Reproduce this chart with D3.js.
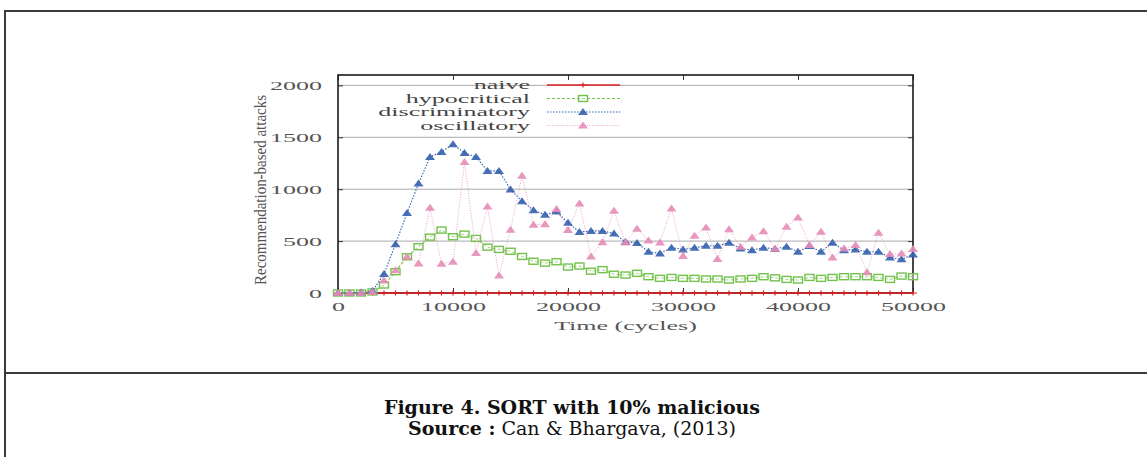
<!DOCTYPE html>
<html>
<head>
<meta charset="utf-8">
<script src="https://cdn.jsdelivr.net/npm/d3@7"></script>
<style>
body { margin: 0; background: #fff; }
svg { display: block; }
.tick text { font-family: "Liberation Serif", "DejaVu Serif", serif; font-size: 13px; fill: #555; }
</style>
</head>
<body>
<div id="chart"></div>
<script>
// values read every 1000 cycles, 0..50000
var cycles = d3.range(0, 50001, 1000);
var naive = cycles.map(function() { return 0; });
var hypocritical = [0, 0, 0, 10, 77, 205, 349, 446, 538, 606, 542, 567, 526, 442, 420, 402, 352, 306, 288, 301,
  250, 260, 210, 225, 181, 173, 190, 157, 141, 150, 141, 141, 135, 135, 125, 135, 141, 157, 146, 131,
  125, 150, 141, 150, 157, 157, 157, 150, 131, 163, 157];
var discriminatory = [0, 0, 5, 20, 183, 470, 770, 1054, 1311, 1359, 1433, 1349, 1311, 1176, 1176, 997, 885, 798, 753, 785,
  676, 588, 598, 598, 574, 492, 482, 397, 381, 436, 420, 436, 455, 455, 484, 429, 413, 436, 425, 446,
  397, 452, 397, 484, 413, 420, 397, 397, 343, 324, 370];
var oscillatory = [0, 0, 0, 10, 120, 220, 350, 285, 822, 282, 301, 1263, 385, 833, 168, 609, 1130, 657, 663, 809,
  606, 862, 352, 489, 792, 486, 618, 505, 487, 814, 356, 551, 631, 327, 615, 446, 535, 596, 426, 638,
  728, 462, 590, 343, 429, 462, 200, 580, 375, 381, 423];
var seriesNames = ["naive", "hypocritical", "discriminatory", "oscillatory"];
var xTicks = [0, 10000, 20000, 30000, 40000, 50000];
var yTicks = [0, 500, 1000, 1500, 2000];

var mrg = { top: 75, right: 234, bottom: 164, left: 338 },
  W = 1147, H = 457,
  plotW = W - mrg.left - mrg.right,
  plotH = H - mrg.top - mrg.bottom;
var stretch = 2.0; // the source picture is widened about 2x

var svg = d3.select("#chart").append("svg")
  .attr("width", W).attr("height", H);

// figure frame
svg.append("path").attr("d", "M5,457 L5,11 L1147,11")
  .attr("fill", "none").attr("stroke", "#3a3a3a").attr("stroke-width", 2);
svg.append("line").attr("x1", 5).attr("x2", 1147).attr("y1", 373).attr("y2", 373)
  .attr("stroke", "#3a3a3a").attr("stroke-width", 2);

var chart = svg.append("g").attr("transform", `translate(${mrg.left}, ${mrg.top})`);

var xScale = d3.scaleLinear().domain([0, 50000]).range([0, plotW]);
var yScale = d3.scaleLinear().domain([0, 2100]).range([plotH, 0]);

// horizontal grid
chart.append("g").selectAll("line").data(yTicks.slice(1)).enter().append("line")
  .attr("x1", 0).attr("x2", plotW)
  .attr("y1", function(d) { return yScale(d); }).attr("y2", function(d) { return yScale(d); })
  .attr("stroke", "#aaa").attr("stroke-width", 1);

chart.append("g").attr("transform", `translate(0, ${plotH})`)
  .call(d3.axisBottom(xScale).tickValues(xTicks).tickSize(-5).tickPadding(9).tickFormat(d3.format("d")));
chart.append("g")
  .call(d3.axisLeft(yScale).tickValues(yTicks).tickSize(-5).tickPadding(16).tickFormat(d3.format("d")));
chart.append("g").call(d3.axisTop(xScale).tickValues(xTicks).tickSize(-5).tickFormat(""));
chart.append("g").attr("transform", `translate(${plotW}, 0)`)
  .call(d3.axisRight(yScale).tickValues(yTicks).tickSize(-5).tickFormat(""));
chart.selectAll(".domain").attr("stroke", "none");
chart.selectAll(".tick line").attr("stroke", "#333");
chart.append("rect").attr("width", plotW).attr("height", plotH)
  .attr("fill", "none").attr("stroke", "#1a1a1a").attr("stroke-width", 1.6);

var styles = {
  naive: { data: naive, color: "#d82222", dash: null, width: 1.6, marker: "plus" },
  hypocritical: { data: hypocritical, color: "#72c24c", dash: "3,2", width: 1.1, marker: "square" },
  discriminatory: { data: discriminatory, color: "#3360ae", dash: "1.5,1.5", width: 1.1, marker: "triangle" },
  oscillatory: { data: oscillatory, color: "#e58cb8", dash: "1,1.5", width: 0.8, marker: "triangle" }
};

var line = d3.line()
  .x(function(d) { return xScale(d[0]); })
  .y(function(d) { return yScale(d[1]); });

function drawMarker(g, type, color, x, y) {
  if (type === "plus") {
    g.append("path").attr("d", `M${x - 4},${y}h8M${x},${y - 2.5}v5`)
      .attr("stroke", color).attr("stroke-width", 1.2);
  } else if (type === "square") {
    g.append("rect").attr("x", x - 4.5).attr("y", y - 3).attr("width", 9).attr("height", 6)
      .attr("fill", "#fff").attr("fill-opacity", 0.4).attr("stroke", color).attr("stroke-width", 1.4);
  } else {
    g.append("path").attr("d", `M${x - 5},${y + 3}L${x},${y - 4}L${x + 5},${y + 3}Z`)
      .attr("fill", color).attr("fill-opacity", 0.9);
  }
}

seriesNames.forEach(function(name) {
  var s = styles[name];
  var pts = cycles.map(function(c, i) { return [c, s.data[i]]; });
  var g = chart.append("g");
  g.append("path").datum(pts).attr("d", line)
    .attr("fill", "none").attr("stroke", s.color).attr("stroke-width", s.width)
    .attr("stroke-dasharray", s.dash);
  pts.forEach(function(p) { drawMarker(g, s.marker, s.color, xScale(p[0]), yScale(p[1])); });
});

// legend
var legend = chart.append("g");
seriesNames.forEach(function(name, i) {
  var s = styles[name];
  var ly = 10 + i * 13.5;
  legend.append("text").attr("class", "wide").attr("x", 192).attr("y", ly + 4).attr("text-anchor", "end")
    .attr("font-family", "Liberation Serif, DejaVu Serif, serif").attr("font-size", 13).attr("fill", "#444")
    .text(name);
  legend.append("line").attr("x1", 209).attr("x2", 282).attr("y1", ly).attr("y2", ly)
    .attr("stroke", s.color).attr("stroke-width", s.width).attr("stroke-dasharray", s.dash);
  drawMarker(legend, s.marker, s.color, 245, ly);
});

// axis titles
chart.append("text").attr("class", "wide").attr("x", plotW / 2).attr("y", plotH + 37).attr("text-anchor", "middle")
  .attr("font-family", "Liberation Serif, DejaVu Serif, serif").attr("font-size", 13).attr("fill", "#555")
  .text("Time (cycles)");
svg.append("text").attr("transform", "translate(266, 190) scale(1.4, 1) rotate(-90)").attr("text-anchor", "middle")
  .attr("font-family", "Liberation Sans Narrow, Liberation Serif, serif").attr("font-size", 12).attr("fill", "#555")
  .attr("textLength", 190).attr("lengthAdjust", "spacingAndGlyphs")
  .text("Recommendation-based attacks");

// widen plot texts like the source picture
chart.selectAll(".tick text, text.wide").each(function() {
  var len = this.getComputedTextLength();
  if (len > 0) d3.select(this).attr("textLength", len * stretch).attr("lengthAdjust", "spacingAndGlyphs");
});

// caption
svg.append("text").attr("x", 572).attr("y", 414).attr("text-anchor", "middle")
  .attr("font-family", "DejaVu Serif, serif").attr("font-weight", "bold").attr("font-size", 19).attr("fill", "#111")
  .text("Figure 4. SORT with 10% malicious");
var src = svg.append("text").attr("x", 572).attr("y", 435).attr("text-anchor", "middle")
  .attr("font-family", "DejaVu Serif, serif").attr("font-size", 19).attr("fill", "#111");
src.append("tspan").attr("font-weight", "bold").text("Source :");
src.append("tspan").text(" Can & Bhargava, (2013)");
</script>
</body>
</html>
